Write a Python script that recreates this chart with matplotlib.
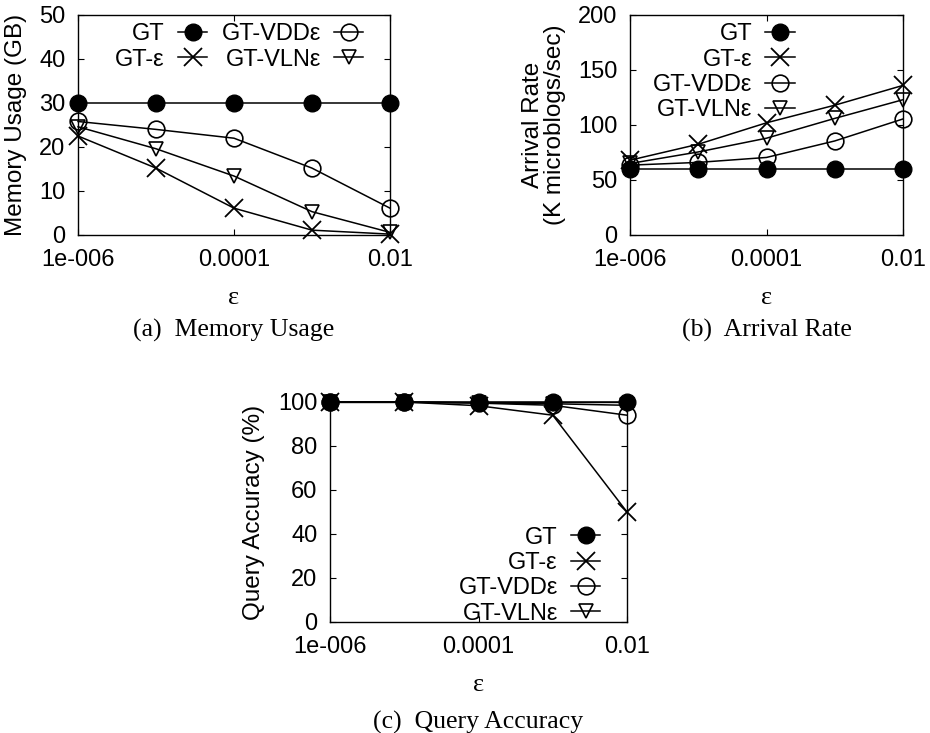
import matplotlib
matplotlib.use("Agg")
import matplotlib.pyplot as plt
from matplotlib.ticker import FixedLocator, FixedFormatter, NullLocator

plt.rcParams['font.family'] = ['Liberation Sans', 'DejaVu Sans']

# epsilon values (x axis, log scale)
eps = [1e-6, 1e-5, 1e-4, 1e-3, 1e-2]
xtick_vals = [1e-6, 1e-4, 1e-2]
xtick_labels = ["1e-006", "0.0001", "0.01"]

series_names = ["GT", "GT-\u03b5", "GT-VDD\u03b5", "GT-VLN\u03b5"]

# (a) memory usage (GB)
mem_gt = [30, 30, 30, 30, 30]
mem_eps = [22.5, 15.2, 6.1, 1.1, 0.2]
mem_vdd = [25.8, 24.0, 22.0, 15.2, 6.1]
mem_vln = [24.6, 19.6, 13.4, 5.3, 0.6]

# (b) arrival rate (K microblogs/sec)
arr_gt = [60, 60, 60, 60, 60]
arr_eps = [68, 82.5, 102, 118, 136]
arr_vdd = [63.5, 66, 70.5, 85.5, 105.5]
arr_vln = [65, 75.5, 88, 106, 123]

# (c) query accuracy (%)
acc_gt = [100, 100, 100, 100, 100]
acc_eps = [100, 100, 98.3, 94, 50]
acc_vdd = [100, 100, 99.5, 98.5, 94]
acc_vln = [100, 100, 99.6, 99.2, 98.5]

styles = [
    dict(marker='o', ms=12, mfc='black', mec='black'),
    dict(marker='x', ms=13, mew=1.3, mec='black'),
    dict(marker='o', ms=12, mfc='none', mec='black', mew=1.2),
    dict(marker='v', ms=10, mfc='none', mec='black', mew=1.2),
]

W, H = 930, 733
fig = plt.figure(figsize=(W / 100, H / 100), dpi=100)


def px_axes(l, t, r, b):
    return fig.add_axes([l / W, 1 - b / H, (r - l) / W, (b - t) / H])


def setup(ax, ymax, ystep, ylabel, ylab_x, caption, leg_kw):
    ax.set_xscale('log')
    ax.set_xlim(1e-6, 1e-2)
    ax.set_ylim(0, ymax)
    ax.xaxis.set_major_locator(FixedLocator(xtick_vals))
    ax.xaxis.set_major_formatter(FixedFormatter(xtick_labels))
    ax.xaxis.set_minor_locator(NullLocator())
    ax.set_yticks(list(range(0, ymax + 1, ystep)))
    ax.tick_params(direction='in', length=4, width=0.8, labelsize=17,
                   top=True, right=True, pad=9)
    ax.tick_params(axis='x', pad=10)
    for sp in ax.spines.values():
        sp.set_linewidth(1.0)
    lab = ax.set_ylabel(ylabel, fontsize=17.5, linespacing=1.0)
    lab.set_va('center')
    ax.yaxis.set_label_coords(ylab_x, 0.5)
    ax.text(0.5, leg_kw.pop('xlab_y'), '\u03b5', transform=ax.transAxes,
            ha='center', va='center', fontsize=19, family='Liberation Serif')
    ax.text(0.5, leg_kw.pop('cap_y'), caption, transform=ax.transAxes,
            ha='center', va='center', fontsize=18.5, family='Liberation Serif')
    ax.legend(frameon=False, markerfirst=False, fontsize=17,
              handlelength=1.25, handletextpad=0.55, borderpad=0,
              borderaxespad=0, labelspacing=0.14, **leg_kw)


def draw(ax, data):
    for name, ys, st in zip(series_names, data, styles):
        ax.plot(eps, ys, color='black', lw=1.1, label=name, clip_on=False, **st)


ax_a = px_axes(78, 15, 390, 235)
draw(ax_a, [mem_gt, mem_eps, mem_vdd, mem_vln])
setup(ax_a, 50, 10, "Memory Usage (GB)", -0.2, "(a)  Memory Usage",
      dict(loc='upper right', bbox_to_anchor=(0.915, 0.962), ncol=2,
           columnspacing=0.6, xlab_y=-0.286, cap_y=-0.435))

ax_b = px_axes(630, 15, 903, 235)
draw(ax_b, [arr_gt, arr_eps, arr_vdd, arr_vln])
setup(ax_b, 200, 50, "Arrival Rate\n(K microblogs/sec)", -0.315, "(b)  Arrival Rate",
      dict(loc='upper right', bbox_to_anchor=(0.603, 0.962),
           xlab_y=-0.286, cap_y=-0.435))

ax_c = px_axes(330, 402, 627, 622)
draw(ax_c, [acc_gt, acc_eps, acc_vdd, acc_vln])
setup(ax_c, 100, 20, "Query Accuracy (%)", -0.255, "(c)  Query Accuracy",
      dict(loc='lower right', bbox_to_anchor=(0.91, -0.012),
           xlab_y=-0.286, cap_y=-0.455))

fig.savefig("out.png", dpi=100)
